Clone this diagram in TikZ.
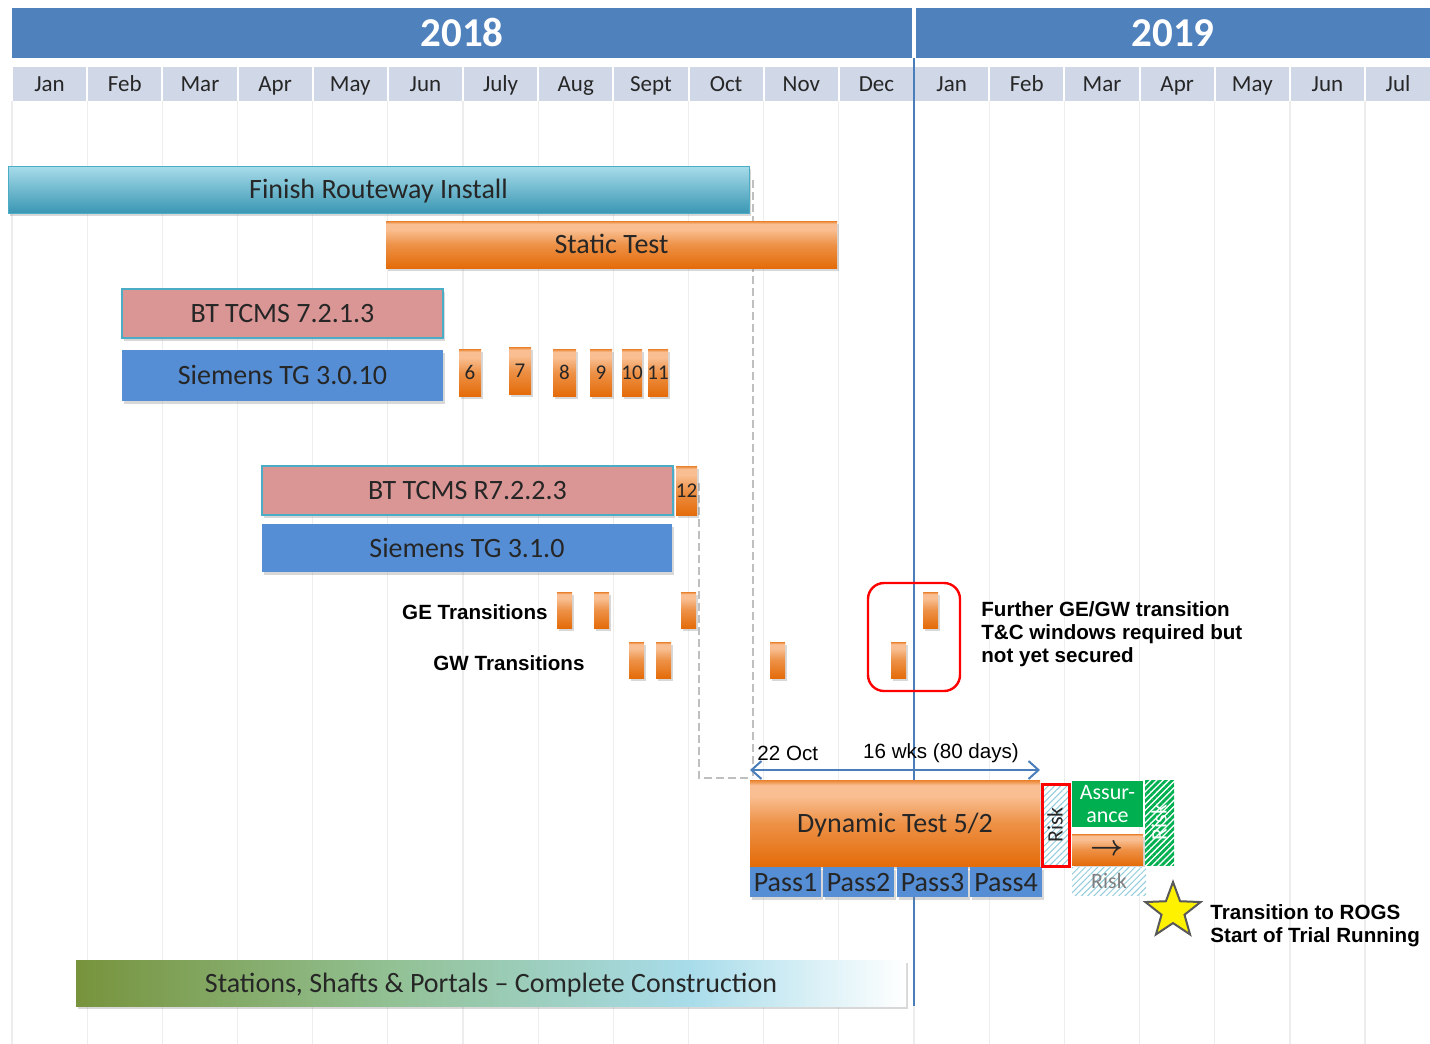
\documentclass[tikz,border=0pt]{standalone}
\usepackage{fontspec}
\setmainfont{Carlito}
\newfontfamily\arialfont{Liberation Sans}
\usepackage{xcolor}
\usetikzlibrary{positioning, arrows.meta, shapes.geometric, fit, patterns.meta, shadows}
\definecolor{yearblue}{HTML}{4F81BD}
\definecolor{monthgray}{HTML}{D0D8E8}
\definecolor{gridgray}{HTML}{EDEDED}
\definecolor{todayblue}{HTML}{4A7EBB}
\definecolor{tealtop}{HTML}{A8DCEA}
\definecolor{tealbot}{HTML}{3A97B3}
\definecolor{tealedge}{HTML}{4BACC6}
\definecolor{orglight}{HTML}{F9BF92}
\definecolor{orgdark}{HTML}{E46C0A}
\definecolor{btpink}{HTML}{D99694}
\definecolor{tgblue}{HTML}{558ED5}
\definecolor{assgreen}{HTML}{00B050}
\definecolor{hatchblue}{HTML}{92CDDC}
\definecolor{olivebar}{HTML}{77933C}
\definecolor{sagebar}{HTML}{92C194}
\definecolor{dashgray}{HTML}{BFBFBF}
\definecolor{bartext}{HTML}{262626}
% the path covers 25bp..75bp of a shading
\pgfdeclareverticalshading{orangebar}{100bp}{color(0bp)=(orgdark); color(25bp)=(orgdark);
  color(50bp)=(orgdark!55!orglight); color(66bp)=(orglight); color(72bp)=(orglight);
  color(75bp)=(orgdark!75!orglight); color(100bp)=(orgdark!75!orglight)}
\pgfdeclareverticalshading{tealbar}{100bp}{color(0bp)=(tealbot); color(25bp)=(tealbot);
  color(75bp)=(tealtop); color(100bp)=(tealtop)}
\pgfdeclarehorizontalshading{stationbar}{100bp}{color(0bp)=(olivebar); color(25bp)=(olivebar);
  color(44bp)=(sagebar); color(62bp)=(tealtop); color(75bp)=(white); color(100bp)=(white)}
\newcommand{\barfont}{\fontsize{14}{16}\selectfont}
\newcommand{\smallfont}{\fontsize{11}{11.5}\selectfont}
\newcommand{\notefont}{\arialfont\bfseries\fontsize{10.3}{11.5}\selectfont}
\newcommand{\arrowfont}{\fontsize{14}{14}\selectfont\boldmath}

\begin{document}
\begin{tikzpicture}[x=0.5pt, y=-0.5pt,
    base/.style={inner sep=0pt, outer sep=0pt},
    bartag/.style={label={[inner sep=0pt, font=\barfont, text=bartext,
      text height=11pt, text depth=2pt]center:#1}},
    numtag/.style={label={[inner sep=0pt, font=\fontsize{10.5}{12}\selectfont, text=bartext,
      text height=8.8pt, text depth=2pt]center:#1}},
    monthtag/.style={label={[inner sep=0pt, font=\fontsize{11.5}{13}\selectfont, text=bartext,
      text height=9.4pt, text depth=2pt]center:#1}},
    yeartag/.style={label={[inner sep=0pt, font=\bfseries\fontsize{20.5}{22}\selectfont, text=white,
      text height=15.2pt, text depth=2pt]center:#1}},
    risktag/.style={label={[inner sep=0pt, rotate=90, font=\smallfont, text=#1,
      text height=9.1pt, text depth=2pt]center:Risk}},
    shadowed/.style={drop shadow={opacity=0.3, shadow xshift=1pt, shadow yshift=-1.5pt}},
    yearcell/.style={base, fill=yearblue},
    monthcell/.style={base, fill=monthgray},
    gridline/.style={draw=gridgray, line width=0.6pt},
    todayline/.style={draw=todayblue, line width=1pt},
    tealbox/.style={base, shade, shading=tealbar, draw=tealedge, line width=0.5pt, shadowed},
    orangebox/.style={base, shade, shading=orangebar, shadowed},
    pinkbox/.style={base, fill=btpink, draw=tealedge, line width=1pt, shadowed},
    bluebox/.style={base, fill=tgblue, shadowed},
    hatchbox/.style={base, preaction={fill=white},
      pattern={Lines[angle=45, distance=2.2pt, line width=0.5pt]}, pattern color=hatchblue},
    greenhatch/.style={base, preaction={fill=white},
      pattern={Lines[angle=45, distance=2.2pt, line width=1.4pt]}, pattern color=assgreen},
    note/.style={inner sep=0pt, font=\notefont, align=left},
    plain/.style={inner sep=0pt, font=\arialfont\fontsize{10.3}{12}\selectfont},
    depline/.style={draw=dashgray, line width=1.2pt, dash pattern=on 4pt off 2pt},
    spanarrow/.style={draw=todayblue, line width=1pt,
      {Straight Barb[length=5pt, width=9pt]}-{Straight Barb[length=5pt, width=9pt]}},
    window/.style={draw=red, line width=1.2pt, rounded corners=8pt, inner sep=0pt}]

  \useasboundingbox[fill=white] (0,0) rectangle (1430,1044);

  % calendar
  \foreach \i in {0,...,18}
    \draw[gridline] ({12+75.17*\i},101) -- ({12+75.17*\i},1044);
  \node[yearcell, fit={(12,8) (912,58)}, yeartag=2018] (y2018) {};
  \node[yearcell, fit={(916,8) (1430,58)}, yeartag=2019] (y2019) {};
  \foreach \m [count=\i from 0] in {Jan,Feb,Mar,Apr,May,Jun,July,Aug,Sept,Oct,Nov,Dec,Jan,Feb,Mar,Apr,May,Jun,Jul} {
    \pgfmathsetmacro\xa{12+75.17*\i+1}
    \pgfmathsetmacro\xb{min(12+75.17*(\i+1)-1,1430)}
    \node[monthcell, fit={(\xa,67) (\xb,101)}, monthtag=\m] (m\i) {};
  }
  \coordinate (todaytop) at (914,58);
  \coordinate (todaybot) at (914,1006);
  \draw[todayline] (todaytop) -- (todaybot);

  % dependencies
  \coordinate (dep1top) at (753,180);
  \coordinate (dep1bot) at (753,778);
  \draw[depline] (dep1top) -- (dep1bot);
  \coordinate (dep2top) at (699,483);
  \coordinate (dep2bot) at (699,778);
  \coordinate (dep2end) at (752,778);
  \draw[depline] (dep2top) -- (dep2bot) -- (dep2end);

  % bars
  \node[tealbox, fit={(8,166) (749,213)}, bartag=Finish Routeway Install] (routeway) {};
  \node[orangebox, fit={(386,221) (837,268)}, bartag=Static Test] (static) {};
  \node[pinkbox, fit={(122,289) (443,338)}, bartag=BT TCMS 7.2.1.3] (bt1) {};
  \node[bluebox, fit={(122,350) (443,401)}, bartag=Siemens TG 3.0.10] (tg1) {};
  \foreach \n/\xa/\xb/\ya/\yb in {6/459/481/349/396, 7/509/531/347/394, 8/553/576/349/396,
      9/590/612/349/396, 10/622/642/349/396, 11/648/668/349/396}
    \node[orangebox, fit={(\xa,\ya) (\xb,\yb)}, numtag=\n] (b\n) {};
  \node[pinkbox, fit={(262,466) (673,515)}, bartag=BT TCMS R7.2.2.3] (bt2) {};
  \node[orangebox, fit={(676,466) (697,515)}, numtag=12] (b12) {};
  \node[bluebox, fit={(262,524) (672,572)}, bartag=Siemens TG 3.1.0] (tg2) {};

  % transitions
  \node[note, anchor=east] (gelabel) at (548,612) {GE Transitions};
  \node[note, anchor=west] (gwlabel) at (433,663) {GW Transitions};
  \foreach \xa [count=\k] in {557,594,681,923}
    \node[orangebox, fit={(\xa,592) ({\xa+15},628)}] (ge\k) {};
  \foreach \xa [count=\k] in {629,656,770,891}
    \node[orangebox, fit={(\xa,642) ({\xa+15},678)}] (gw\k) {};
  \node[window, fit={(868,583) (960,691)}] (window) {};
  \node[note, anchor=north west] (further) at (981,601)
    {Further GE/GW transition\\T\&C windows required but\\not yet secured};

  % dynamic test
  \coordinate (spanL) at (750,770);
  \coordinate (spanR) at (1040,770);
  \draw[spanarrow] (spanL) -- (spanR);
  \node[plain, anchor=west] (oct) at (757,753) {22 Oct};
  \node[plain] (wks) at (941,753) {16 wks (80 days)};
  \node[orangebox, fit={(750,780) (1040,866)}, bartag=Dynamic Test 5/2] (dyn) {};
  \foreach \p/\xa/\xb in {1/750/821, 2/823/894, 3/897/968, 4/970/1042}
    \node[bluebox, fit={(\xa,867) (\xb,897)}, bartag=Pass\p] (pass\p) {};
  \node[hatchbox, draw=red, line width=1.5pt, fit={(1042,784) (1069,866)}, risktag=bartext] (risk1) {};
  \node[base, fill=assgreen, fit={(1072,781) (1143,827)},
        label={[inner sep=0pt, font=\smallfont, text=white, align=center]center:Assur-\\ance}] (assur) {};
  \node[orangebox, fit={(1072,834) (1143,865)},
        label={[inner sep=0pt, text=bartext, font=\arrowfont]center:$\rightarrow$}] (next) {};
  \node[hatchbox, fit={(1072,867) (1146,895)},
        label={[inner sep=0pt, font=\smallfont, text=gray, text height=9.1pt, text depth=2pt]center:Risk}] (risk2) {};
  \node[greenhatch, fit={(1145,780) (1174,865)}, risktag=white] (risk3) {};

  % milestone
  \node[star, star points=5, star point ratio=2.4, minimum size=29pt, inner sep=0pt,
        fill=yellow, draw=gray!70!black, line width=1pt] (rogs) at (1173,911) {};
  \node[note, anchor=west] (rogstext) at (1210,926) {Transition to ROGS\\Start of Trial Running};

  % construction
  \node[base, shade, shading=stationbar, shadowed, fit={(76,960) (906,1006)},
        bartag={Stations, Shafts \& Portals -- Complete Construction}] (stations) {};
\end{tikzpicture}
\end{document}
